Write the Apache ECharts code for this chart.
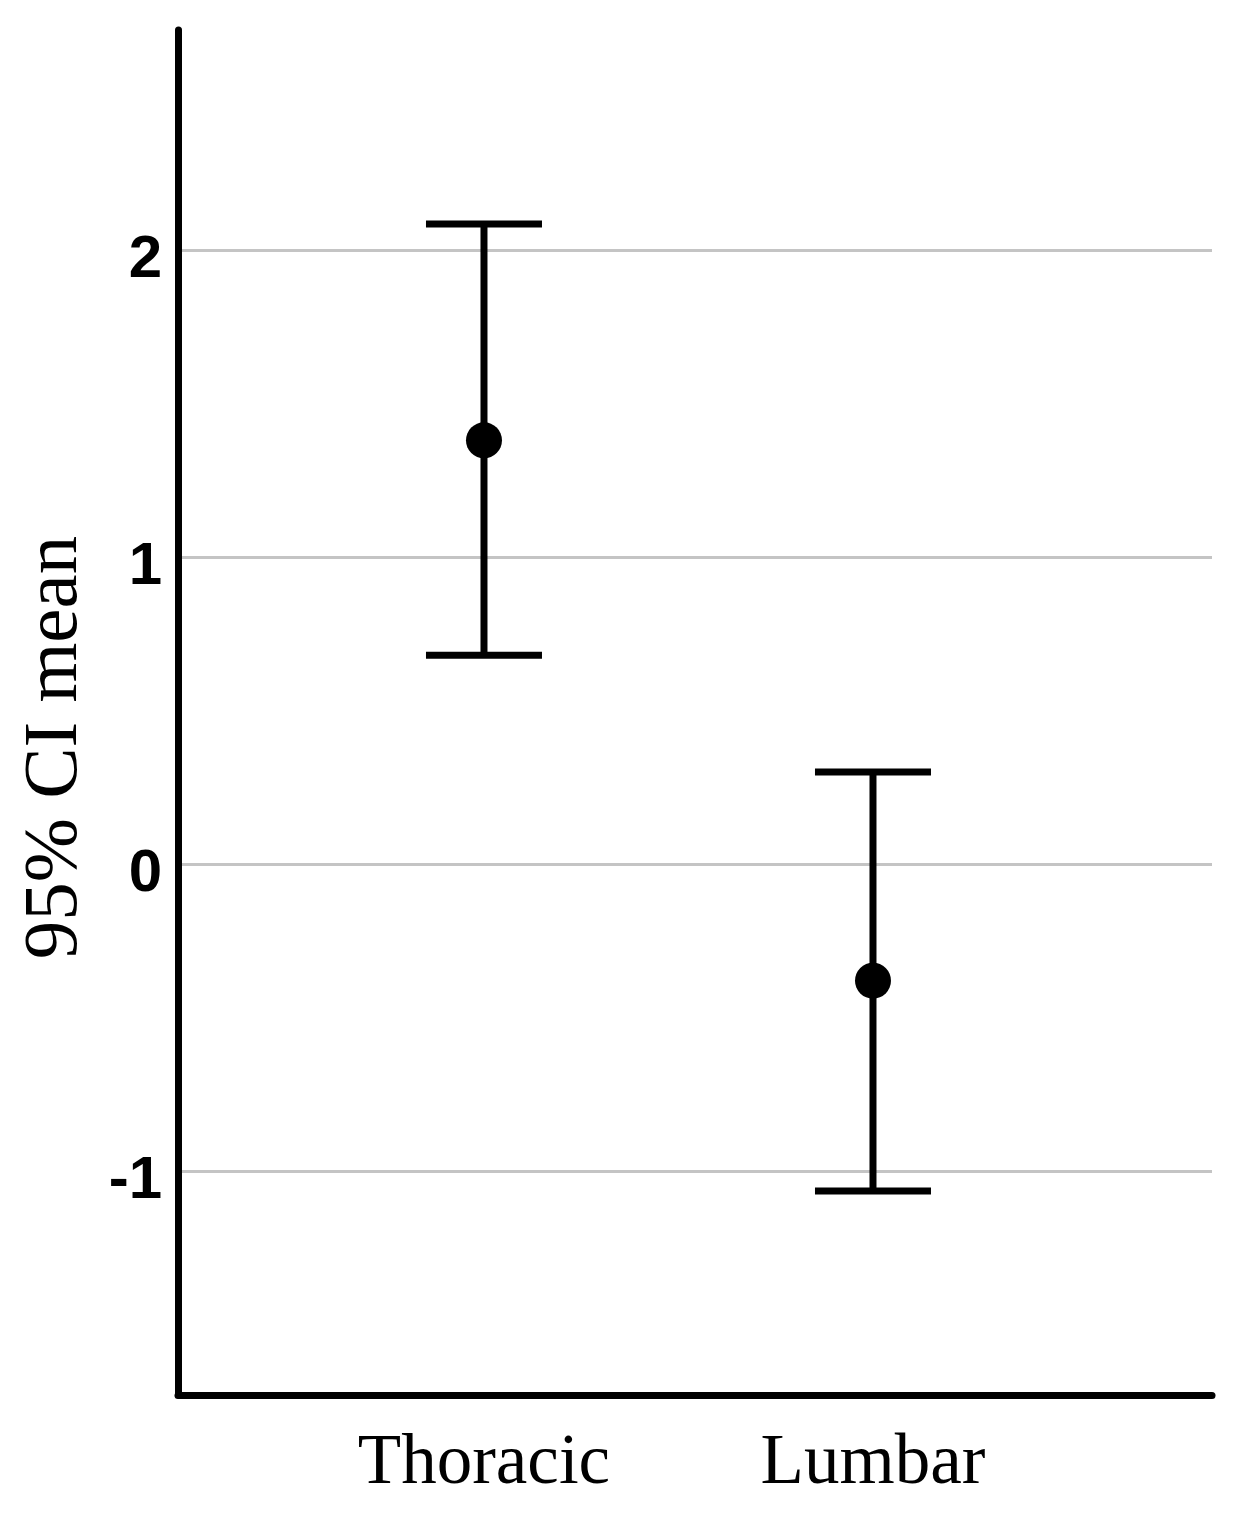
<!DOCTYPE html>
<html>
<head>
<meta charset="utf-8">
<script src="https://cdn.jsdelivr.net/npm/echarts@6/dist/echarts.min.js"></script>
<style>
  html, body { margin: 0; padding: 0; background: #fff; }
  #chart { width: 1251px; height: 1525px; }
</style>
</head>
<body>
<div id="chart"></div>
<script>
// values
const categories = ['Thoracic', 'Lumbar']
const means = [1.38, -0.38]
const lowerCI = [0.68, -1.065]
const upperCI = [2.085, 0.30]
const yTicks = [-1, 0, 1, 2]

const chart = echarts.init(document.getElementById('chart'))

// x position of each group = index + 1
const barData = categories.map((c, i) => [i + 1, lowerCI[i], upperCI[i]])
const dotData = categories.map((c, i) => [i + 1, means[i]])

const CAP_HALF = 58

const option = {
  animation: false,
  grid: { left: 178, right: 39, top: 30, bottom: 130, outerBoundsMode: 'none' },
  xAxis: {
    type: 'value',
    min: 0.2134,
    max: 2.8715,
    axisLine: { show: true, onZero: false, lineStyle: { color: '#000', width: 7 } },
    axisTick: { show: false },
    splitLine: { show: false },
    axisLabel: {
      customValues: [1, 2],
      formatter: v => categories[Math.round(v) - 1] || '',
      fontFamily: 'Liberation Serif',
      fontSize: 71,
      color: '#000',
      margin: 34
    }
  },
  yAxis: {
    type: 'value',
    min: -1.7296,
    max: 2.7166,
    name: '95% CI mean',
    nameLocation: 'middle',
    nameGap: 84,
    nameMoveOverlap: false,
    nameTextStyle: {
      fontFamily: 'Liberation Serif',
      fontSize: 77,
      color: '#000',
      padding: [0, 70, 0, 0]
    },
    axisLine: { show: true, lineStyle: { color: '#000', width: 7 } },
    axisTick: { show: false, customValues: yTicks },
    splitLine: { show: true, lineStyle: { color: '#c4c4c4', width: 3 } },
    axisLabel: {
      customValues: yTicks,
      formatter: v => '{t|' + v + '}',
      rich: {
        t: {
          fontFamily: 'Liberation Sans',
          fontWeight: 'bold',
          fontSize: 60,
          color: '#000',
          padding: [20, 0, 0, 0]
        }
      },
      margin: 16
    }
  },
  series: [
    {
      type: 'custom',
      data: barData,
      encode: { x: 0, y: [1, 2] },
      renderItem: function (params, api) {
        const lo = api.coord([api.value(0), api.value(1)])
        const hi = api.coord([api.value(0), api.value(2)])
        const style = { stroke: '#000', lineWidth: 7 }
        return {
          type: 'group',
          children: [
            { type: 'line', shape: { x1: lo[0], y1: lo[1], x2: hi[0], y2: hi[1] }, style },
            { type: 'line', shape: { x1: hi[0] - CAP_HALF, y1: hi[1], x2: hi[0] + CAP_HALF, y2: hi[1] }, style },
            { type: 'line', shape: { x1: lo[0] - CAP_HALF, y1: lo[1], x2: lo[0] + CAP_HALF, y2: lo[1] }, style }
          ]
        }
      },
      z: 3
    },
    {
      type: 'scatter',
      data: dotData,
      symbol: 'circle',
      symbolSize: 36,
      itemStyle: { color: '#000', opacity: 1 },
      z: 4
    }
  ]
}

chart.setOption(option)
</script>
</body>
</html>
